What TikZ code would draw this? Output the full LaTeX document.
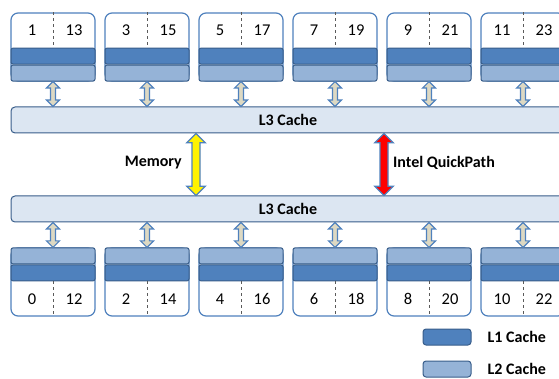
\documentclass[tikz,border=0pt]{standalone}
\usepackage{fontspec}
\setmainfont{Carlito}
\usetikzlibrary{positioning, calc}
\definecolor{cpublue}{HTML}{4F81BD}
\definecolor{cpuline}{HTML}{385D8A}
\definecolor{cachetwo}{HTML}{95B3D7}
\definecolor{cachethree}{HTML}{DCE6F2}
\definecolor{busfill}{HTML}{DDD9C3}
\definecolor{divgray}{RGB}{90,90,90}

% fat two-headed arrow: style, from, to, half shaft, half head
\newcommand{\fatlink}[5]{%
  \path[#1] let \p1=(#2), \p2=(#3) in
    (\x1,\y1) -- (\x1+#5,\y1-#5) -- (\x1+#4,\y1-#5) -- (\x1+#4,\y2+#5)
    -- (\x1+#5,\y2+#5) -- (\x1,\y2) -- (\x1-#5,\y2+#5) -- (\x1-#4,\y2+#5)
    -- (\x1-#4,\y1-#5) -- (\x1-#5,\y1-#5) -- cycle;}

\begin{document}
\begin{tikzpicture}[
  x=1pt, y=-1pt,
  core/.style={draw=cpublue, line width=1.2pt, rounded corners=7pt, fill=white, minimum width=84pt, minimum height=68pt, inner sep=0pt},
  band/.style={draw=cpuline, line width=1pt, rounded corners=2pt, minimum width=84pt, minimum height=16pt, inner sep=0pt},
  l1band/.style={band, fill=cpublue},
  l2band/.style={band, fill=cachetwo},
  cache/.style={draw=cpuline, line width=1pt, fill=cachethree, rounded corners=4pt, minimum width=554pt, minimum height=26pt, inner sep=0pt, font=\bfseries\fontsize{16}{19}\selectfont},
  divider/.style={divgray, dashed, line width=0.8pt},
  num/.style={inner sep=0pt, font=\fontsize{16.5}{19}\selectfont},
  lbl/.style={inner sep=0pt, font=\bfseries\fontsize{16}{19}\selectfont},
  bus/.style={draw=cpublue, fill=busfill, line width=1.2pt},
  link/.style={draw=cpublue, line width=1.2pt},
]
  \useasboundingbox (0,0) rectangle (559,379);
  \clip (0,0) rectangle (559,379);

  % L3 caches
  \node[cache] (l3top) at (288,120) {L3 Cache};
  \node[cache] (l3bot) at (288,209) {L3 Cache};

  % Cores
  \foreach \i in {0,...,5} {
    \pgfmathtruncatemacro{\ta}{2*\i+1}
    \pgfmathtruncatemacro{\tb}{2*\i+13}
    \pgfmathtruncatemacro{\ba}{2*\i}
    \pgfmathtruncatemacro{\bb}{2*\i+12}
    % upper socket
    \node[core] (top\i) at (53+94*\i,47) {};
    \node[l2band, anchor=south] (topl2\i) at (top\i.south) {};
    \node[l1band, anchor=south] (topl1\i) at (topl2\i.north) {};
    \draw[divider] (top\i.north) -- (topl1\i.north);
    \node[num] (topa\i) at ($(top\i.north)!0.5!(topl1\i.north)+(-21,0)$) {\ta};
    \node[num] (topb\i) at ($(top\i.north)!0.5!(topl1\i.north)+(21,0)$) {\tb};
    \fatlink{bus}{top\i.south}{l3top.north}{2.5pt}{6.5pt}
    % lower socket
    \node[core] (bot\i) at (53+94*\i,282) {};
    \node[l2band, anchor=north] (botl2\i) at (bot\i.north) {};
    \node[l1band, anchor=north] (botl1\i) at (botl2\i.south) {};
    \draw[divider] (botl1\i.south) -- (bot\i.south);
    \node[num] (bota\i) at ($(bot\i.south)!0.5!(botl1\i.south)+(-21,0)$) {\ba};
    \node[num] (botb\i) at ($(bot\i.south)!0.5!(botl1\i.south)+(21,0)$) {\bb};
    \fatlink{bus}{l3bot.south -| bot\i.north}{bot\i.north}{2.5pt}{6.5pt}
  }

  % Links between sockets
  \coordinate (memx) at (196,163);
  \coordinate (qpix) at (384,163);
  \fatlink{link, fill=yellow}{l3top.south -| memx}{l3bot.north -| memx}{4pt}{9.3pt}
  \fatlink{link, fill=red}{l3top.south -| qpix}{l3bot.north -| qpix}{4pt}{9.3pt}
  \node[lbl, anchor=east] (memlbl) at ($(memx)+(-14,0)$) {Memory};
  \node[lbl, anchor=west] (qpilbl) at ($(qpix)+(9,0)$) {Intel QuickPath};

  % Legend
  \node[l1band, minimum width=48pt, rounded corners=3pt] (keyl1) at (447,337) {};
  \node[l2band, minimum width=48pt, rounded corners=3pt, below=15pt of keyl1] (keyl2) {};
  \node[lbl, right=16pt of keyl1] (keyl1txt) {L1 Cache};
  \node[lbl, right=16pt of keyl2] (keyl2txt) {L2 Cache};
\end{tikzpicture}
\end{document}
